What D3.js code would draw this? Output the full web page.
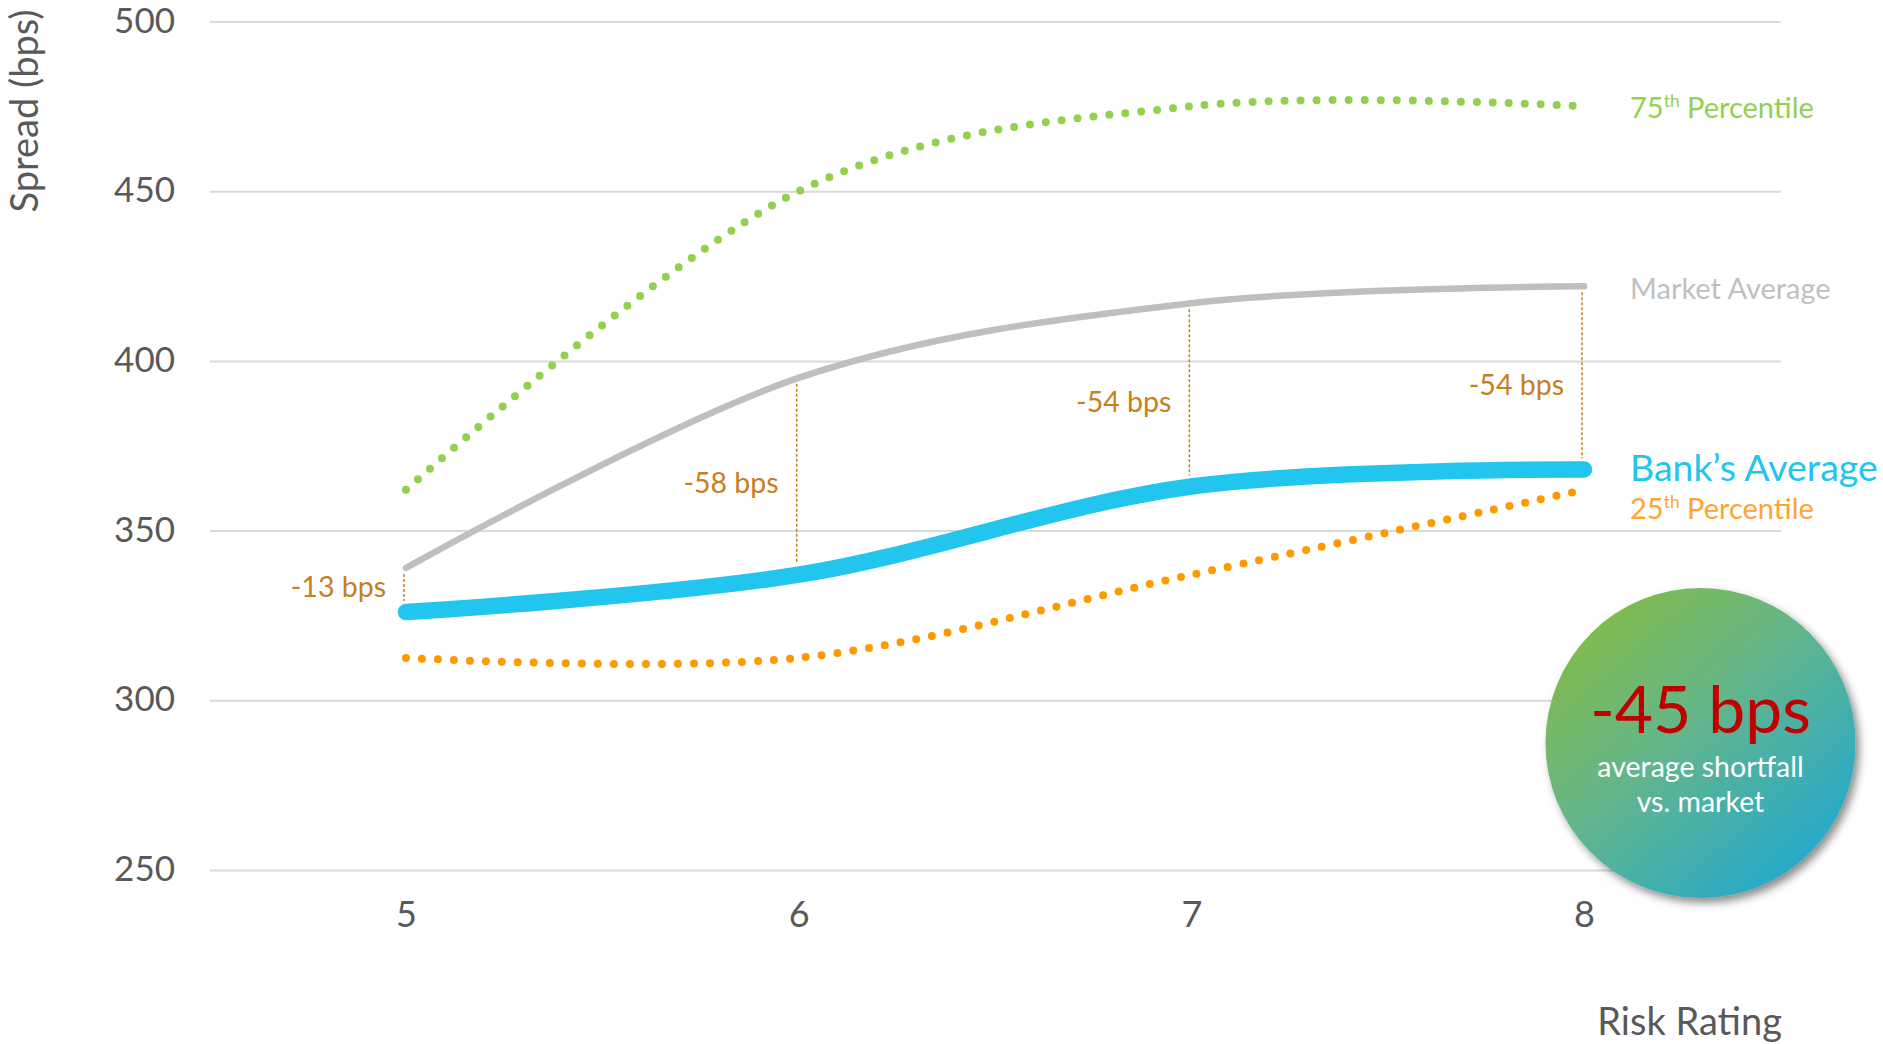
<!DOCTYPE html>
<html>
<head>
<meta charset="utf-8">
<script src="https://cdn.jsdelivr.net/npm/d3@7"></script>
<style>
  html, body { margin: 0; padding: 0; background: #ffffff; }
  svg { display: block; font-family: Lato, "Open Sans", sans-serif; }
</style>
</head>
<body>
<svg id="chart" width="1883" height="1044"></svg>
<script>
// Risk ratings on the x axis
const ratings = [5, 6, 7, 8];
// Spread in basis points per risk rating
const marketAvg = [339, 395, 417, 422];
const bankAvg   = [326, 337, 363, 368];
const pct75     = [362, 450, 475, 475];
const pct25     = [312.5, 312.5, 337, 362];
// Y-axis tick values
const yTicks = [250, 300, 350, 400, 450, 500];

const svg = d3.select("#chart");

const x = d3.scaleLinear().domain([5, 8]).range([406, 1584]);
const y = d3.scaleLinear().domain([250, 500]).range([870, 21.5]);

const gridLeft = 210, gridRight = 1781;

// Y axis with horizontal gridlines
const yAxis = svg.append("g")
  .attr("transform", `translate(${gridLeft},0)`)
  .call(d3.axisLeft(y).tickValues(yTicks).tickSize(-(gridRight - gridLeft)).tickPadding(35));
yAxis.select(".domain").remove();
yAxis.selectAll(".tick line").attr("stroke", "#d9d9d9").attr("stroke-width", 2);
yAxis.selectAll(".tick text")
  .attr("fill", "#595959").attr("font-size", 35).attr("font-family", "Lato, sans-serif")
  .attr("dy", "0.3em");

// X axis labels
const xAxis = svg.append("g")
  .attr("transform", `translate(0,${y(250)})`)
  .call(d3.axisBottom(x).tickValues(ratings).tickFormat(d3.format("d")).tickSize(0).tickPadding(31));
xAxis.select(".domain").remove();
xAxis.selectAll(".tick text")
  .attr("fill", "#595959").attr("font-size", 36).attr("font-family", "Lato, sans-serif");

// Axis titles
svg.append("text")
  .attr("transform", "translate(38,111) rotate(-90)")
  .attr("text-anchor", "middle")
  .attr("fill", "#595959").attr("font-size", 38)
  .text("Spread (bps)");
svg.append("text")
  .attr("x", gridRight + 1).attr("y", 1035)
  .attr("text-anchor", "end")
  .attr("fill", "#595959").attr("font-size", 38)
  .text("Risk Rating");

const line = d3.line()
  .x((d, i) => x(ratings[i]))
  .y(d => y(d))
  .curve(d3.curveCardinal.tension(0));

// Percentile bands as dotted lines
svg.append("path").datum(pct75)
  .attr("d", line).attr("fill", "none")
  .attr("stroke", "#92d050").attr("stroke-width", 8)
  .attr("stroke-linecap", "round").attr("stroke-dasharray", "0 16");
svg.append("path").datum(pct25)
  .attr("d", line).attr("fill", "none")
  .attr("stroke", "#ff9900").attr("stroke-width", 8)
  .attr("stroke-linecap", "round").attr("stroke-dasharray", "0 16");

// Market average
svg.append("path").datum(marketAvg)
  .attr("d", line).attr("fill", "none")
  .attr("stroke", "#bfbfbf").attr("stroke-width", 6.5)
  .attr("stroke-linecap", "round");

// Gap connectors and labels between market and bank averages
const gapColor = "#c5801c";
const gaps = ratings.map((r, i) => ({ r, m: marketAvg[i], b: bankAvg[i], gap: Math.round(bankAvg[i] - marketAvg[i]) }));
svg.append("g").selectAll("line").data(gaps).join("line")
  .attr("x1", d => x(d.r) - 2).attr("x2", d => x(d.r) - 2)
  .attr("y1", d => y(d.m) + 6).attr("y2", d => y(d.b) - 11)
  .attr("stroke", gapColor).attr("stroke-width", 1.5)
  .attr("stroke-dasharray", "3 2");
svg.append("g").selectAll("text").data(gaps).join("text")
  .attr("x", d => x(d.r) - 20)
  .attr("y", d => {
    const top = y(d.m), bottom = y(d.b);
    return (top + bottom) / 2 + Math.min(7, (bottom - top) / 2 - 25);
  })
  .attr("dy", "0.35em")
  .attr("text-anchor", "end")
  .attr("fill", gapColor).attr("font-size", 28.5)
  .text(d => `${d.gap} bps`);

// Bank average
svg.append("path").datum(bankAvg)
  .attr("d", line).attr("fill", "none")
  .attr("stroke", "#22c5ee").attr("stroke-width", 16.5)
  .attr("stroke-linecap", "round");

// Series labels at the right end
const labelX = 1630;
function seriesLabel(yPos, color, size, main, sup, rest) {
  const t = svg.append("text").attr("x", labelX).attr("y", yPos)
    .attr("fill", color).attr("font-size", size);
  t.append("tspan").text(main);
  if (sup) {
    t.append("tspan").attr("font-size", size * 0.6).attr("dy", -size * 0.38).text(sup);
    t.append("tspan").attr("dy", size * 0.38).text(rest);
  }
}
seriesLabel(118, "#92d050", 29, "75", "th", " Percentile");
seriesLabel(299, "#c0c0c0", 29, "Market Average");
seriesLabel(481, "#22c5ee", 37.5, "Bank\u2019s Average");
seriesLabel(519, "#ffa333", 29, "25", "th", " Percentile");

// Summary bubble
const defs = svg.append("defs");
const grad = defs.append("linearGradient").attr("id", "bubbleGrad")
  .attr("x1", "0.1").attr("y1", "0.05").attr("x2", "0.9").attr("y2", "0.95");
grad.append("stop").attr("offset", "0%").attr("stop-color", "#84bc43");
grad.append("stop").attr("offset", "45%").attr("stop-color", "#63b58c");
grad.append("stop").attr("offset", "100%").attr("stop-color", "#1da8d4");
const shadow = defs.append("filter").attr("id", "bubbleShadow")
  .attr("x", "-20%").attr("y", "-20%").attr("width", "150%").attr("height", "150%");
shadow.append("feDropShadow").attr("dx", 4).attr("dy", 5)
  .attr("stdDeviation", 4).attr("flood-color", "#000").attr("flood-opacity", 0.45);

const avgGap = d3.mean(gaps, d => d.gap);
const bubble = svg.append("g").attr("transform", "translate(1700.5,743)");
bubble.append("circle").attr("r", 155)
  .attr("fill", "url(#bubbleGrad)").attr("filter", "url(#bubbleShadow)");
bubble.append("text").attr("y", -10).attr("text-anchor", "middle")
  .attr("fill", "#c00000").attr("font-size", 66)
  .text(`${Math.round(avgGap)} bps`);
bubble.append("text").attr("y", 34).attr("text-anchor", "middle")
  .attr("fill", "#ffffff").attr("font-size", 28.5)
  .text("average shortfall");
bubble.append("text").attr("y", 69).attr("text-anchor", "middle")
  .attr("fill", "#ffffff").attr("font-size", 28.5)
  .text("vs. market");
</script>
</body>
</html>
